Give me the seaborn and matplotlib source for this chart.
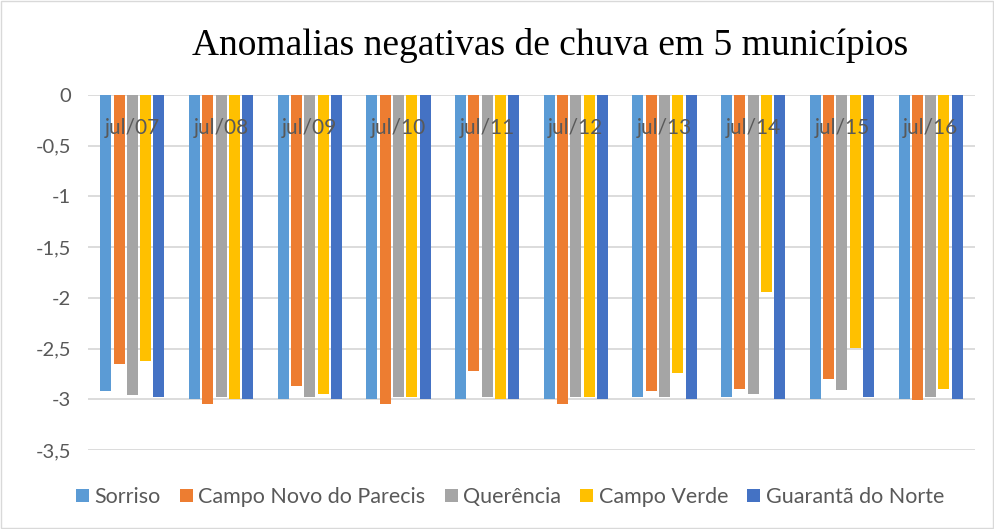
import pandas as pd
import numpy as np
import seaborn as sns
import matplotlib
matplotlib.use("Agg")
import matplotlib.pyplot as plt
from matplotlib.patches import Patch, Rectangle
from matplotlib.transforms import blended_transform_factory

sns.set_theme(style="white")
plt.rcParams["font.family"] = ["Lato", "DejaVu Sans"]

meses = ["jul/07", "jul/08", "jul/09", "jul/10", "jul/11",
         "jul/12", "jul/13", "jul/14", "jul/15", "jul/16"]
municipios = ["Sorriso", "Campo Novo do Parecis", "Querência",
              "Campo Verde", "Guarantã do Norte"]

sorriso = [-2.92, -3.00, -3.00, -3.00, -3.00, -3.00, -2.98, -2.98, -3.00, -3.00]
campo_novo = [-2.65, -3.05, -2.87, -3.05, -2.72, -3.05, -2.92, -2.90, -2.80, -3.01]
querencia = [-2.96, -2.98, -2.98, -2.98, -2.98, -2.98, -2.98, -2.95, -2.91, -2.98]
campo_verde = [-2.62, -3.00, -2.95, -2.98, -3.00, -2.98, -2.74, -1.94, -2.49, -2.90]
guaranta = [-2.98, -3.00, -3.00, -3.00, -3.00, -3.00, -3.00, -3.00, -2.98, -3.00]

cores = ["#5B9BD5", "#ED7D31", "#A5A5A5", "#FFC000", "#4472C4"]

series = [sorriso, campo_novo, querencia, campo_verde, guaranta]
df = pd.DataFrame({
    "mes": meses * len(municipios),
    "municipio": np.repeat(municipios, len(meses)),
    "valor": np.concatenate(series),
})

fig = plt.figure(figsize=(9.95, 5.29), dpi=100)
ax = fig.add_axes([88 / 995, 1 - 450 / 529, (975 - 88) / 995, (450 - 95) / 529])

sns.barplot(data=df, x="mes", y="valor", hue="municipio", order=meses,
            hue_order=municipios, palette=cores, width=0.75, gap=0.17,
            saturation=1, ax=ax, legend=False, edgecolor="none")

ax.set_ylim(-3.5, 0)
ax.set_xlim(-0.5, len(meses) - 0.5)
yt = np.arange(0, -3.51, -0.5)
ax.set_yticks(yt)
ax.set_yticklabels([("%g" % v).replace(".", ",") for v in yt],
                   color="#595959", fontsize=14.5)
ax.yaxis.grid(True, color="#D9D9D9", linewidth=1.3)
ax.set_axisbelow(True)
for s in ax.spines.values():
    s.set_visible(False)
ax.tick_params(axis="y", length=0, pad=12)
ax.set_xticks([])
ax.set_xlabel("")
ax.set_ylabel("")

# rótulos das categorias por cima das barras, logo abaixo do zero
trans = blended_transform_factory(ax.transData, ax.transAxes)
for i, m in enumerate(meses):
    ax.text(i, 0.907, m, transform=trans, ha="center", va="center",
            fontsize=15, color="#595959", zorder=10)

fig.text(550 / 995, 1 - 46 / 529, "Anomalias negativas de chuva em 5 municípios",
         ha="center", va="center", fontsize=27,
         family=["Liberation Serif", "DejaVu Serif"], color="black")

handles = [Patch(facecolor=c, edgecolor="none") for c in cores]
fig.legend(handles, municipios, loc="center", ncol=5,
           bbox_to_anchor=(510 / 995, 1 - 497 / 529), frameon=False,
           fontsize=15.5, handlelength=0.6, handleheight=0.6,
           handletextpad=0.25, columnspacing=0.9, labelcolor="#595959")

fig.add_artist(Rectangle((0.001, 0.002), 0.997, 0.996, transform=fig.transFigure,
                         fill=False, edgecolor="#D9D9D9", linewidth=1))

fig.savefig("out.png", dpi=100)
